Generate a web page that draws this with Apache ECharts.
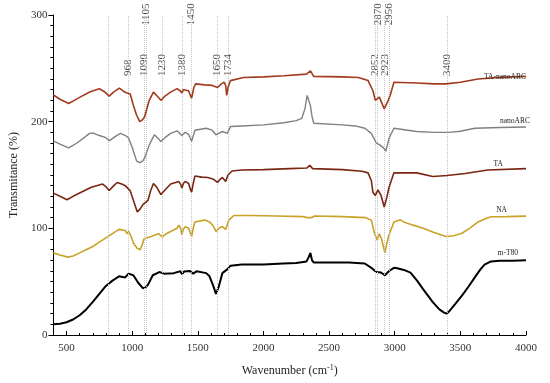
<!DOCTYPE html>
<html><head><meta charset="utf-8">
<script src="https://cdn.jsdelivr.net/npm/echarts@6/dist/echarts.min.js"></script>
<style>html,body{margin:0;padding:0;background:#fff}#c{width:550px;height:383px}</style>
</head><body><div id="c"></div>
<script>
// ---- data: [wavenumber (cm-1), transmittance (%)] ----
const mT80 = [[400,10],[450,10.5],[500,12],[550,14.5],[600,18.5],[650,24],[700,31],[750,38.5],[800,46],[850,51],[900,55],[947,54],[972,57.5],[1009,56],[1046,49],[1083,43.7],[1105,45],[1120,47],[1157,56],[1207,59],[1243,57.5],[1317,58],[1367,59.7],[1380,57],[1395,59.5],[1441,60],[1465,57.5],[1490,59.7],[1564,58],[1589,55],[1618,46],[1638,38.5],[1658,44.6],[1687,58],[1724,61.5],[1749,65],[1835,66],[2000,66],[2150,67],[2250,67.5],[2328,69],[2345,73],[2358,77],[2370,70],[2383,68],[2476,68],[2650,68],[2772,67],[2822,63],[2859,59],[2896,58.5],[2925,56],[2957,60],[2994,63],[3019,62.5],[3070,61],[3120,58.5],[3170,51],[3216,43],[3290,30.8],[3340,24],[3376,21],[3395,20],[3413,22],[3460,29],[3512,37],[3560,45],[3610,54],[3650,61],[3684,66],[3733,69],[3800,69.5],[3900,69.5],[4000,70]];
const NA = [[400,77],[450,75],[510,73],[550,74],[600,77],[650,80],[700,83],[750,87],[800,91],[850,95],[900,99],[947,98],[960,95],[975,97],[990,93],[1010,86],[1040,81],[1060,80],[1075,84],[1090,90],[1145,92.3],[1200,95],[1230,92],[1260,95],[1293,97],[1342,100],[1355,103],[1370,100],[1379,94],[1390,99],[1404,101.5],[1430,100],[1453,92.3],[1465,100],[1478,106],[1552,107.7],[1590,106],[1613,103],[1640,97],[1655,97.5],[1670,101],[1687,101.5],[1712,99],[1737,107.7],[1774,112],[1900,112],[2100,111.5],[2300,111],[2340,110],[2365,110],[2390,111.5],[2600,111],[2780,110],[2822,107.7],[2846,95.4],[2866,89],[2883,94.8],[2900,90],[2925,77],[2940,86],[2957,94],[2994,106],[3043,108],[3068,106],[3140,103],[3216,100],[3300,96],[3390,92.3],[3450,93],[3512,95.4],[3570,100],[3635,106],[3690,109],[3733,110.8],[3850,111],[4000,111.4]];
const TA = [[400,133],[450,130],[504,126.8],[550,130],[615,134],[689,138.5],[775,141.5],[800,139],[825,135.4],[860,140],[886,143],[920,141.5],[947,140],[984,135.4],[1010,126],[1039,115.4],[1060,118],[1083,122.5],[1120,126],[1140,135],[1162,142],[1190,138],[1219,131.7],[1250,136],[1293,141.5],[1355,144],[1370,141],[1379,137.8],[1390,142],[1404,144],[1430,142],[1445,136],[1453,134],[1465,142],[1478,149],[1530,148],[1576,147.7],[1620,146],[1650,143],[1670,146],[1687,147.7],[1700,146],[1712,144],[1730,150],[1761,153.8],[1835,154.7],[2000,155],[2200,156],[2330,156.5],[2353,159],[2375,156],[2600,155],[2750,153.5],[2797,152],[2822,144.6],[2834,133.8],[2852,130.8],[2872,136],[2896,130.8],[2920,120],[2940,129],[2957,138.5],[2994,152],[3168,152],[3290,148.6],[3400,149.5],[3536,151.4],[3709,154.7],[4000,156]];
const nanoARC = [[400,182],[450,179],[516,175.4],[580,180],[676,189],[700,189.5],[750,187],[800,185],[825,182],[870,186],[911,189],[950,187],[972,184.6],[1000,176],[1034,163],[1058,161.5],[1080,163],[1095,166],[1130,178],[1169,187.7],[1200,184],[1219,181.5],[1250,185],[1293,189],[1342,191.4],[1379,187],[1404,190],[1430,188],[1453,181.5],[1478,192],[1564,193.8],[1610,192],[1638,187.7],[1687,190.8],[1724,189],[1749,195.4],[1835,196],[2000,197],[2156,199],[2250,201],[2291,203],[2316,212],[2333,224.6],[2345,226],[2358,215],[2370,205],[2383,198.5],[2600,197],[2700,196],[2772,193.8],[2822,189],[2859,180],[2883,178.5],[2915,175.4],[2932,172.3],[2957,184.6],[2994,193.8],[3100,192],[3168,190.8],[3300,190],[3413,190],[3500,191],[3610,193.8],[3800,194.5],[4000,195]];
const TAnanoARC = [[400,225],[450,221],[516,217],[560,220],[603,223],[680,228],[750,230.8],[790,228],[825,224],[860,228],[903,231.4],[940,228],[960,226.8],[985,226],[1010,215],[1034,206],[1058,200],[1080,202],[1095,204.6],[1130,220],[1162,227.7],[1190,224],[1219,220],[1250,224],[1293,227.7],[1342,231],[1365,229],[1379,227],[1390,230],[1404,230.8],[1430,229],[1445,224],[1453,222],[1470,232],[1483,235.4],[1552,234.5],[1610,234],[1650,232],[1675,235],[1700,237],[1712,234],[1720,224.6],[1730,232],[1749,238.5],[1848,241.4],[2000,242],[2156,243],[2328,244.6],[2358,247.7],[2383,242.5],[2600,242],[2723,241.4],[2797,238.5],[2834,229],[2852,220],[2883,223],[2920,212],[2945,218.5],[2965,224.6],[2994,237],[3168,236.3],[3300,235.4],[3390,235.4],[3500,237],[3635,240],[3800,241.5],[4000,242.5]];

const seriesNames = ['m-T80','NA','TA','nanoARC','TA-nanoARC'];
const peakLines = [820,968,1090,1105,1230,1380,1450,1650,1734,2852,2870,2923,2956,3400];
const upperPeakLabels = [1105,1450,2870,2956];
const lowerPeakLabels = [968,1090,1230,1380,1650,1734,2852,2923,3400];
const xTickLabels = [500,1000,1500,2000,2500,3000,3500,4000];
const yTickLabels = [0,100,200,300];

// ---- styles ----
const FONT = 'Liberation Serif';
const seriesData = [mT80, NA, TA, nanoARC, TAnanoARC];
const colors = ['#000000','#c9a227','#7a2613','#808080','#a23a1e'];
const widths = [2, 1.6, 1.6, 1.4, 1.6];
const labelOffsets = [[-8,-7],[-19,-6],[-23,-5],[4,-6],[0,1]];
const UPPER_LABEL_Y = 290.5, LOWER_LABEL_Y = 242.8;

const chart = echarts.init(document.getElementById('c'), null, {renderer:'canvas'});
const series = seriesData.map((d,i) => ({
  name: seriesNames[i], type:'line', data:d, showSymbol:false, symbol:'none',
  lineStyle:{color:colors[i], width:widths[i]}, itemStyle:{color:colors[i]},
  z: 3 + i,
  endLabel:{show:true, formatter: seriesNames[i], fontFamily:FONT, fontSize:7.5, color:'#222',
    align:'right', verticalAlign:'middle', distance:0, offset:labelOffsets[i]}
}));
series[0].markLine = {
  silent:true, symbol:['none','none'], animation:false,
  lineStyle:{type:'dotted', color:'#c4c4c4', width:1},
  label:{show:false},
  data: peakLines.map(w => ({xAxis:w}))
};
series.push({
  type:'scatter', symbolSize:0, clip:false, z:2, silent:true,
  data: upperPeakLabels.map(w => [w, UPPER_LABEL_Y]).concat(lowerPeakLabels.map(w => [w, LOWER_LABEL_Y])),
  label:{show:true, position:'inside', rotate:90, align:'left', verticalAlign:'middle',
    formatter: p => String(p.value[0]), fontFamily:FONT, fontSize:11, color:'#222'}
});

chart.setOption({
  animation:false,
  backgroundColor:'#fff',
  textStyle:{fontFamily:FONT},
  grid:{left:39.3, right:24, top:15, bottom:43, containLabel:false},
  xAxis:[{
    type:'value', min:400, max:4000, position:'bottom',
    name:'Wavenumber (cm{sup|-1})', nameLocation:'middle', nameGap:29,
    nameTextStyle:{fontFamily:FONT, fontSize:12, color:'#222', lineHeight:14,
      rich:{sup:{fontFamily:FONT, fontSize:8, verticalAlign:'top', lineHeight:14, padding:[0,0,6,0]}}},
    axisLine:{show:true, onZero:false, lineStyle:{color:'#000', width:1}},
    axisTick:{show:true, inside:true, length:4, customValues:xTickLabels, lineStyle:{color:'#000'}},
    axisLabel:{customValues:xTickLabels, formatter: v => String(v), fontFamily:FONT, fontSize:11, color:'#333', margin:8},
    splitLine:{show:false}
  },{
    type:'value', min:400, max:4000, interval:100, position:'bottom',
    axisLine:{show:false}, axisLabel:{show:false}, splitLine:{show:false},
    axisTick:{show:true, inside:true, length:2, lineStyle:{color:'#000'}}
  }],
  yAxis:{
    type:'value', min:0, max:300, interval:100,
    name:'Transmitance (%)', nameLocation:'middle', nameGap:22,
    nameTextStyle:{fontFamily:FONT, fontSize:12, color:'#222'},
    axisLine:{show:true, lineStyle:{color:'#000', width:1}},
    axisTick:{show:true, length:5, lineStyle:{color:'#000'}},
    minorTick:{show:true, splitNumber:10, length:3, lineStyle:{color:'#000'}},
    axisLabel:{formatter: v => String(v), fontFamily:FONT, fontSize:11, color:'#333', margin:6},
    splitLine:{show:false}
  },
  series: series
});
</script></body></html>
